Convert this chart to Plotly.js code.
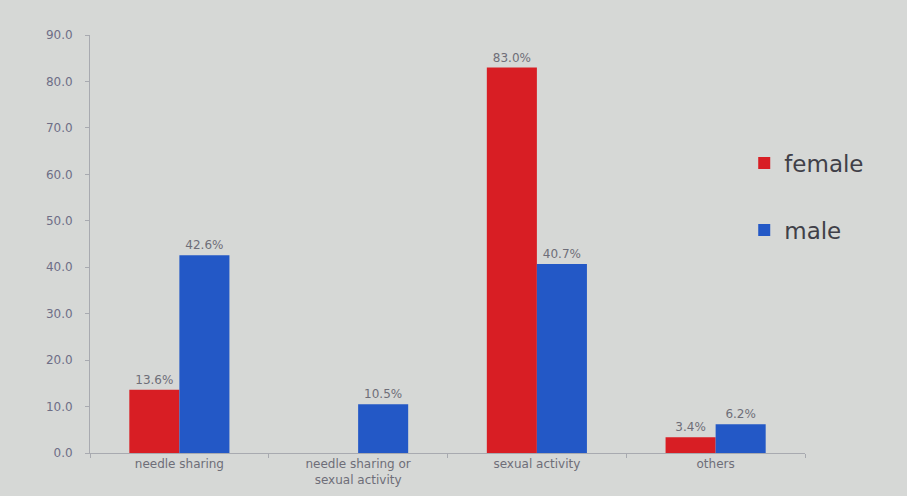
<!DOCTYPE html>
<html>
<head>
<meta charset="utf-8">
<script src="https://cdn.plot.ly/plotly-3.0.1.min.js"></script>
<style>html,body{margin:0;padding:0;background:#d6d8d6;}#chart{width:907px;height:496px;}</style>
</head>
<body>
<div id="chart"></div>
<script>
const categories = ["needle sharing", "needle sharing or<br>sexual activity", "sexual activity", "others"];
const femaleValues = [13.6, null, 83.0, 3.4];
const maleValues = [42.6, 10.5, 40.7, 6.2];
const femaleLabels = ["13.6%", "", "83.0%", "3.4%"];
const maleLabels = ["42.6%", "10.5%", "40.7%", "6.2%"];
const yTicks = [0, 10, 20, 30, 40, 50, 60, 70, 80, 90];

const textFont = {family: "DejaVu Sans", size: 12, color: "#6e6e78"};
const data = [
  {type: "bar", name: "female", x: categories, y: femaleValues, text: femaleLabels,
   textposition: "outside", cliponaxis: false, textfont: textFont,
   marker: {color: "#d81e24"}, legendgroup: "f"},
  {type: "bar", name: "male", x: categories, y: maleValues, text: maleLabels,
   textposition: "outside", cliponaxis: false, textfont: textFont,
   marker: {color: "#2358c6"}, legendgroup: "m"}
];
const layout = {
  width: 907, height: 496,
  paper_bgcolor: "#d6d8d6", plot_bgcolor: "rgba(0,0,0,0)",
  margin: {l: 90, r: 102, t: 35, b: 43},
  barmode: "group", bargap: 0.44, bargroupgap: 0,
  showlegend: true,
  legend: {x: 0.915, y: 0.745, xanchor: "left", yanchor: "top", bgcolor: "rgba(0,0,0,0)",
           font: {family: "DejaVu Sans", size: 23, color: "#404048"},
           traceorder: "grouped", tracegroupgap: 34, itemwidth: 30},
  xaxis: {type: "category", showline: true, linecolor: "#a8aab0", linewidth: 1,
          ticks: "outside", tickson: "boundaries", ticklen: 4, tickcolor: "#a8aab0",
          tickfont: {family: "DejaVu Sans", size: 12, color: "#6e6e78"}, showgrid: false},
  yaxis: {range: [0, 90], tickvals: yTicks, tickformat: ".1f", showline: true,
          linecolor: "#a8aab0", linewidth: 1, ticks: "outside", ticklen: 4, tickcolor: "#a8aab0",
          showgrid: false, zeroline: false,
          tickfont: {family: "DejaVu Sans", size: 12, color: "#6e6e86"}, ticklabelstandoff: 10}
};
Plotly.newPlot("chart", data, layout, {displayModeBar: false, staticPlot: true});
</script>
</body>
</html>
